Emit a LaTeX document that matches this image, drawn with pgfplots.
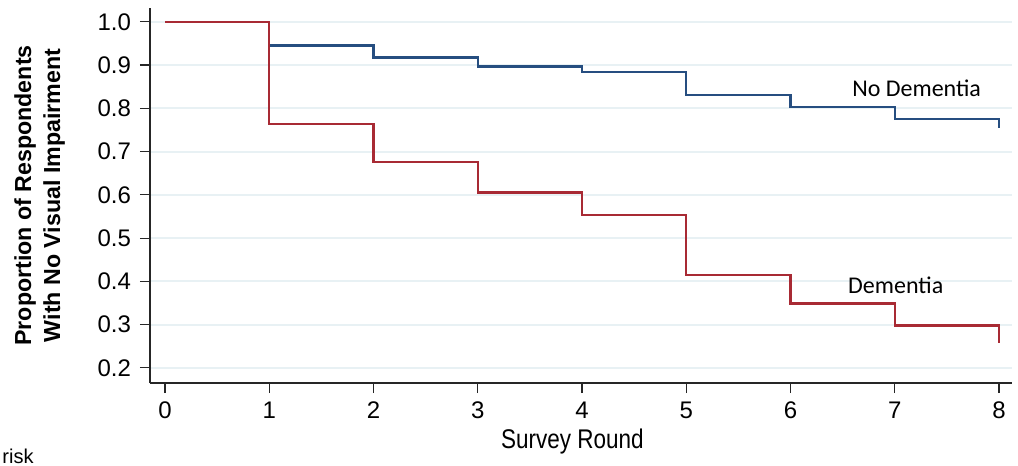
\documentclass[border=0pt]{standalone}
\usepackage{fontspec}
\setmainfont{Liberation Sans}
\newfontfamily\calibri{Carlito}
\usepackage{pgfplots}
\pgfplotsset{compat=1.18}
\definecolor{kmblue}{RGB}{38,78,128}
\definecolor{kmred}{RGB}{168,42,52}
\definecolor{gridc}{RGB}{232,241,244}
\begin{document}
\begin{tikzpicture}
\begin{axis}[
  name=ax,
  scale only axis,
  width=431pt, height=187.5pt,
  xmin=-0.144, xmax=8.125,
  ymin=0.165, ymax=1.032,
  axis x line*=bottom, axis y line*=left,
  axis line style={line width=0.8pt, black!85},
  xtick={0,1,...,8},
  ytick={0.2,0.3,...,1.0},
  /pgf/number format/assume math mode=true,
  tick align=outside,
  major tick length=5pt,
  tick style={line width=0.6pt, black!85},
  ymajorgrids,
  grid style={line width=1pt, gridc},
  ticklabel style={font=\fontsize{12}{14}\selectfont},
  yticklabel style={xshift=-1pt, /pgf/number format/.cd, fixed, fixed zerofill, precision=1},
  xticklabel style={yshift=-1pt},
  xlabel={Survey Round},
  xlabel style={font=\fontsize{12.5}{14}\selectfont, xscale=0.9, yscale=1.08, at={(axis description cs:0.49,-0.155)}, anchor=center},
  ylabel={Proportion of Respondents\\With No Visual Impairment},
  ylabel style={font=\bfseries\fontsize{11.6}{14.5}\selectfont, align=center, at={(axis description cs:-0.128,0.5)}, anchor=center},
  clip=false,
]
\addplot[const plot, kmblue, line width=1.2pt] coordinates {
 (0,1.0) (1,0.945) (2,0.918) (3,0.897) (4,0.884) (5,0.831) (6,0.803) (7,0.776) (8,0.755)};
\addplot[const plot, kmred, line width=1.2pt] coordinates {
 (0,1.0) (1,0.764) (2,0.676) (3,0.605) (4,0.554) (5,0.415) (6,0.349) (7,0.298) (8,0.257)};
\node[font=\calibri\fontsize{12}{14}\selectfont] at (axis cs:7.21,0.847) {No Dementia};
\node[font=\calibri\fontsize{12}{14}\selectfont] at (axis cs:7.01,0.392) {Dementia};
\node[font=\fontsize{10}{12}\selectfont, anchor=west, inner xsep=1pt, inner ysep=0pt] at (axis description cs:-0.174,-0.196) {risk};
\end{axis}
\pgfresetboundingbox
\path[use as bounding box] ([xshift=-75pt,yshift=-41.5pt]ax.south west) rectangle ([xshift=3pt,yshift=4pt]ax.north east);
\end{tikzpicture}
\end{document}
